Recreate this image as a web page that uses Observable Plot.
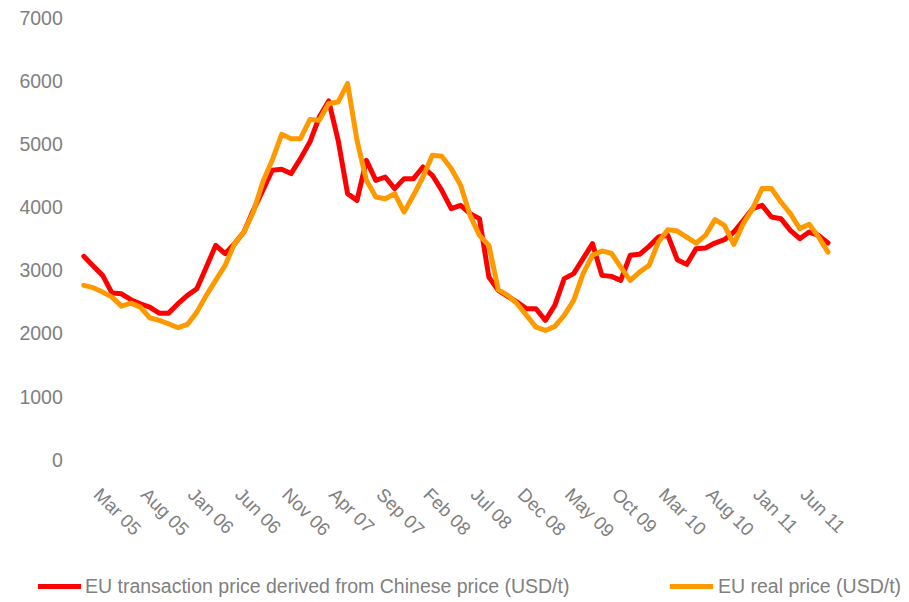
<!DOCTYPE html>
<html><head><meta charset="utf-8">
<script src="https://cdn.jsdelivr.net/npm/d3@7"></script>
<script src="https://cdn.jsdelivr.net/npm/@observablehq/plot@0.6"></script>
<style>
body{margin:0;background:#fff;font-family:"Liberation Sans",Arial,sans-serif;}
#legend{position:relative;width:909px;height:47px;color:#808080;font-size:19.5px;}
.sw{position:absolute;height:5px;top:29px;}
.lt{position:absolute;top:20px;line-height:22px;white-space:nowrap;}
</style></head><body>
<div id="chart"></div>
<div id="legend"></div>
<script>
// Monthly series, Mar 05 .. Oct 11 (80 months)
const seriesNames = ["EU transaction price derived from Chinese price (USD/t)", "EU real price (USD/t)"];
const seriesColors = ["#ff0000", "#ff9900"];
const chinaDerived = [
  3233,3080,2932,2651,2640,2546,2480,2430,2334,2334,
  2483,2615,2721,3060,3407,3275,3434,3618,3962,4279,
  4596,4612,4544,4781,5044,5440,5694,5071,4227,4120,
  4754,4437,4490,4306,4464,4464,4648,4517,4279,3989,
  4041,3910,3830,2905,2694,2600,2509,2404,2404,2219,
  2456,2880,2959,3197,3434,2932,2916,2853,3249,3265,
  3391,3539,3566,3181,3106,3355,3365,3444,3497,3618,
  3800,3989,4041,3856,3830,3645,3513,3618,3566,3444
];
const euReal = [
  2773,2737,2667,2588,2445,2493,2429,2261,2219,2166,
  2103,2155,2350,2615,2853,3090,3434,3618,3935,4411,
  4754,5166,5097,5097,5399,5388,5653,5678,5970,5071,
  4437,4173,4146,4226,3935,4200,4490,4834,4818,4623,
  4358,3883,3566,3407,2705,2615,2483,2298,2113,2060,
  2124,2298,2536,2959,3249,3317,3285,3063,2853,2984,
  3090,3460,3656,3634,3539,3444,3566,3815,3724,3423,
  3751,3989,4306,4306,4094,3910,3672,3740,3539,3301
];
const tickLabels = ["Mar 05","Aug 05","Jan 06","Jun 06","Nov 06","Apr 07","Sep 07","Feb 08",
  "Jul 08","Dec 08","May 09","Oct 09","Mar 10","Aug 10","Jan 11","Jun 11"];
const tickStep = 5;
const yTicks = [0,1000,2000,3000,4000,5000,6000,7000];

const xTicks = tickLabels.map((_, k) => k * tickStep);

const chart = Plot.plot({
  width: 909,
  height: 555,
  marginTop: 18,
  marginBottom: 95,
  marginLeft: 83.3,
  marginRight: 81.5,
  style: {fontFamily: "'Liberation Sans', Arial, sans-serif", fontSize: "18.5px", color: "#808080", background: "#fff"},
  x: {domain: [0, chinaDerived.length - 1]},
  y: {domain: [0, 7000]},
  marks: [
    Plot.axisY(yTicks, {tickSize: 0, tickPadding: 21, fontSize: 19.5, label: null, tickFormat: d => String(d)}),
    Plot.axisX(xTicks, {tickSize: 0, tickPadding: 31, tickRotate: 45, dx: 13, fontSize: 18.5, label: null,
      tickFormat: d => tickLabels[d / tickStep]}),
    Plot.line(chinaDerived, {x: (d, i) => i, y: d => d, stroke: seriesColors[0], strokeWidth: 5, strokeLinejoin: "round", strokeLinecap: "round"}),
    Plot.line(euReal, {x: (d, i) => i, y: d => d, stroke: seriesColors[1], strokeWidth: 5, strokeLinejoin: "round", strokeLinecap: "round"})
  ]
});
document.getElementById("chart").appendChild(chart);

const legend = document.getElementById("legend");
const legendPos = [{sw: 38, swW: 43, tx: 85}, {sw: 670, swW: 43, tx: 718}];
seriesNames.forEach((name, s) => {
  const sw = document.createElement("div");
  sw.className = "sw";
  sw.style.left = legendPos[s].sw + "px";
  sw.style.width = legendPos[s].swW + "px";
  sw.style.background = seriesColors[s];
  legend.appendChild(sw);
  const t = document.createElement("div");
  t.className = "lt";
  t.style.left = legendPos[s].tx + "px";
  t.textContent = name;
  legend.appendChild(t);
});
</script>
</body></html>
